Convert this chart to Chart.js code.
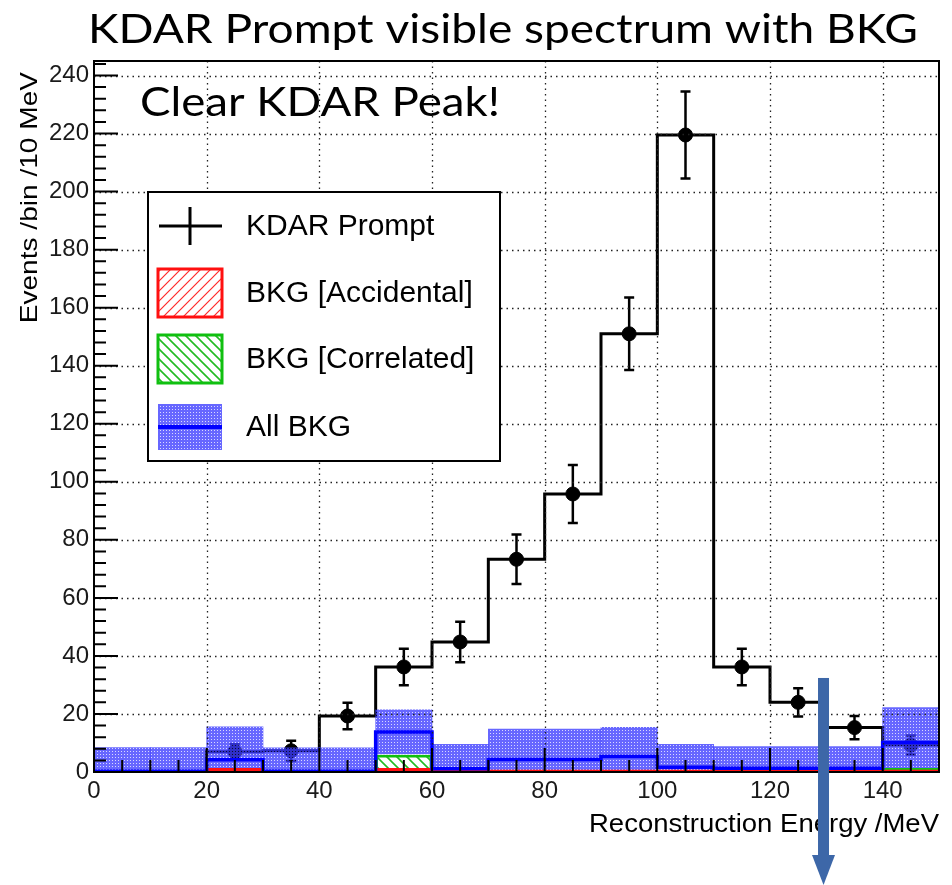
<!DOCTYPE html>
<html lang="en">
<head>
    <meta charset="UTF-8">
    <title>KDAR Prompt visible spectrum with BKG</title>
    <style>
        body { margin: 0; padding: 0; background: #fff; }
        canvas { display: block; }
    </style>
</head>
<body>
    <canvas id="spectrum" width="952" height="885"></canvas>

    <script src="https://cdn.jsdelivr.net/npm/chart.js"></script>
    <script>
        // 10 MeV bins, lower edges
        const binLow = [0, 10, 20, 30, 40, 50, 60, 70, 80, 90, 100, 110, 120, 130, 140];
        const binWidth = 10;

        // KDAR prompt events per bin and their errors
        const kdarCounts = [0, 0, 7.0, 7.3, 19.3, 36.2, 44.8, 73.3, 95.8, 151, 219.5, 36.2, 24.0, 15.3, 9.3];
        const kdarErr    = [0, 0, 2.6, 3.5, 4.6, 6.3, 7.0, 8.5, 10.0, 12.5, 15.0, 6.3, 4.9, 4.0, 3.3];

        // backgrounds
        const bkgAccidental = [0, 0, 1.3, 0, 0, 1.3, 0.8, 0.7, 0.7, 0.7, 0.7, 0.7, 0.7, 0.7, 0.7];
        const bkgCorrelated = [0, 0, 0, 0, 0, 5.8, 0, 0, 0, 0, 0, 0, 0, 0, 1.3];
        const bkgTotal      = [0.3, 0.3, 4.2, 0.3, 0.3, 13.8, 1.1, 4.3, 4.3, 5.3, 1.6, 1.3, 1.3, 1.3, 10.2];
        const bkgTotalErr   = [8.1, 8.1, 11.4, 8.0, 8.0, 7.6, 8.4, 10.5, 10.5, 10.1, 7.9, 7.5, 7.5, 7.5, 12.0];

        // axis ticks
        const xTicks = [0, 20, 40, 60, 80, 100, 120, 140];
        const yTicks = [0, 20, 40, 60, 80, 100, 120, 140, 160, 180, 200, 220, 240];

        // where the arrow marker sits (MeV, events)
        const arrowEnergy = 129.5;
        const arrowTop = 32.4;

        const canvas = document.getElementById('spectrum');
        const ctx = canvas.getContext('2d');

        // ---- fill patterns (ROOT style hatches / dots) ----
        function makePattern(size, draw) {
            const c = document.createElement('canvas');
            c.width = c.height = size;
            draw(c.getContext('2d'), size);
            return ctx.createPattern(c, 'repeat');
        }
        const dotBlue = makePattern(3, g => {
            g.fillStyle = 'rgba(60, 60, 255, 0.78)';
            g.fillRect(0, 0, 3, 3);
            g.clearRect(1, 1, 1, 1);
            g.fillStyle = 'rgba(60, 60, 255, 0.2)';
            g.fillRect(1, 1, 1, 1);
        });
        function hatch(color, forward, width) {
            return makePattern(10, (g, s) => {
                g.strokeStyle = color;
                g.lineWidth = width;
                g.beginPath();
                if (forward) {
                    g.moveTo(0, s); g.lineTo(s, 0);
                    g.moveTo(-2, 2); g.lineTo(2, -2);
                    g.moveTo(s - 2, s + 2); g.lineTo(s + 2, s - 2);
                } else {
                    g.moveTo(0, 0); g.lineTo(s, s);
                    g.moveTo(-2, s - 2); g.lineTo(2, s + 2);
                    g.moveTo(s - 2, -2); g.lineTo(s + 2, 2);
                }
                g.stroke();
            });
        }
        const hatchRed = hatch('#ff2a2a', true, 1.2);
        const hatchGreen = hatch('#22bb22', false, 1.6);

        // ---- data helpers ----
        const centers = binLow.map(lo => lo + binWidth / 2);
        function stepPoints(values) {
            const pts = values.map((v, i) => ({ x: binLow[i], y: v }));
            pts.push({ x: binLow[binLow.length - 1] + binWidth, y: values[values.length - 1] });
            return pts;
        }
        function barPoints(values) {
            return values.map((v, i) => ({ x: centers[i], y: [0, v] })).filter(p => p.y[1] > 0);
        }
        const bandPoints = bkgTotal.map((v, i) => ({
            x: centers[i],
            y: [Math.max(0, v - bkgTotalErr[i]), v + bkgTotalErr[i]]
        }));
        const markerPoints = kdarCounts
            .map((v, i) => ({ x: centers[i], y: v, err: kdarErr[i] }))
            .filter(p => p.y > 0);

        const barCommon = {
            type: 'bar',
            grouped: false,
            barPercentage: 1,
            categoryPercentage: 1
        };

        // ---- drawing helpers ----
        function text(c, str, x, y, font, align, baseline, color) {
            c.font = font;
            c.textAlign = align;
            c.textBaseline = baseline;
            c.fillStyle = color || '#000';
            c.fillText(str, x, y);
        }
        // text widened along its own direction (ROOT's Helvetica runs wider)
        function wideText(c, str, x, y, font, align, stretch, angle) {
            c.save();
            c.translate(x, y);
            if (angle) c.rotate(angle);
            c.scale(stretch, 1);
            text(c, str, 0, 0, font, align, 'alphabetic');
            c.restore();
        }
        // stretch a text horizontally so it spans a given width
        function textToWidth(c, str, x, y, font, width) {
            c.font = font;
            const w = c.measureText(str).width;
            wideText(c, str, x, y, font, 'left', width / w);
        }

        const AXIS_FONT = "24px 'Liberation Sans', Arial, sans-serif";

        // error bars for the KDAR points
        const errorBars = {
            id: 'errorBars',
            afterDatasetDraw(chart, args) {
                if (args.meta.index !== 1) return;
                const c = chart.ctx, xs = chart.scales.x, ys = chart.scales.y;
                c.save();
                c.strokeStyle = '#000';
                c.lineWidth = 2.5;
                markerPoints.forEach(p => {
                    const px = xs.getPixelForValue(p.x);
                    const top = ys.getPixelForValue(p.y + p.err);
                    const bot = ys.getPixelForValue(Math.max(0, p.y - p.err));
                    c.beginPath();
                    c.moveTo(px, top); c.lineTo(px, bot);
                    c.moveTo(px - 5, top); c.lineTo(px + 5, top);
                    c.moveTo(px - 5, bot); c.lineTo(px + 5, bot);
                    c.stroke();
                });
                c.restore();
            }
        };

        // grid, frame and inward ticks like a ROOT pad
        const rootFrame = {
            id: 'rootFrame',
            afterDatasetsDraw(chart) {
                const c = chart.ctx, a = chart.chartArea, xs = chart.scales.x, ys = chart.scales.y;
                c.save();
                c.strokeStyle = '#222';
                c.lineWidth = 1.3;
                c.setLineDash([1.5, 4]);
                c.beginPath();
                xTicks.slice(1).forEach(t => {
                    const px = Math.round(xs.getPixelForValue(t)) + 0.5;
                    c.moveTo(px, a.top); c.lineTo(px, a.bottom);
                });
                yTicks.slice(1).forEach(t => {
                    const py = Math.round(ys.getPixelForValue(t)) + 0.5;
                    c.moveTo(a.left, py); c.lineTo(a.right, py);
                });
                c.stroke();
                c.setLineDash([]);

                c.strokeStyle = '#000';
                c.lineWidth = 2;
                c.strokeRect(a.left, a.top, a.right - a.left, a.bottom - a.top);

                c.beginPath();
                for (let v = 0; v <= ys.max; v += 4) {
                    const py = ys.getPixelForValue(v);
                    const len = v % 20 === 0 ? 24 : 12;
                    c.moveTo(a.left, py); c.lineTo(a.left + len, py);
                }
                for (let v = 0; v <= xs.max; v += 5) {
                    const px = xs.getPixelForValue(v);
                    const len = v % 20 === 0 ? 24 : 12;
                    c.moveTo(px, a.bottom); c.lineTo(px, a.bottom - len);
                }
                c.stroke();
                c.restore();
            },
            afterDraw(chart) {
                const c = chart.ctx, a = chart.chartArea, xs = chart.scales.x, ys = chart.scales.y;
                c.save();
                yTicks.forEach(t => text(c, String(t), a.left - 5, ys.getPixelForValue(t), AXIS_FONT, 'right', 'middle', '#1a1a1a'));
                xTicks.forEach(t => text(c, String(t), xs.getPixelForValue(t), a.bottom + 19, AXIS_FONT, 'center', 'middle', '#1a1a1a'));

                wideText(c, 'Reconstruction Energy /MeV', a.right, a.bottom + 60,
                    "25px 'Liberation Sans', Arial, sans-serif", 'right', 1.1);
                wideText(c, 'Events /bin /10 MeV', 37, a.top + 11,
                    "24px 'Liberation Sans', Arial, sans-serif", 'right', 1.17, -Math.PI / 2);
                c.restore();
            }
        };

        // legend box drawn in the pad
        const padLegend = {
            id: 'padLegend',
            afterDraw(chart) {
                const c = chart.ctx;
                const box = { x: 148, y: 192, w: 352, h: 269 };
                c.save();
                c.fillStyle = '#fff';
                c.fillRect(box.x, box.y, box.w, box.h);
                c.strokeStyle = '#000';
                c.lineWidth = 2;
                c.strokeRect(box.x, box.y, box.w, box.h);

                const sx = 158, sw = 64, tx = 246;
                const rows = [226, 293, 359, 427];
                const font = "30px 'Liberation Sans', Arial, sans-serif";

                // KDAR Prompt: marker cross
                c.lineWidth = 3;
                c.beginPath();
                c.moveTo(sx + 1, rows[0]); c.lineTo(sx + sw, rows[0]);
                c.moveTo(sx + sw / 2, rows[0] - 19); c.lineTo(sx + sw / 2, rows[0] + 19);
                c.stroke();
                text(c, 'KDAR Prompt', tx, rows[0] + 1, font, 'left', 'middle');

                // accidental
                c.fillStyle = hatchRed;
                c.fillRect(sx, rows[1] - 24, sw, 48);
                c.strokeStyle = '#ff1010';
                c.lineWidth = 3;
                c.strokeRect(sx, rows[1] - 24, sw, 48);
                text(c, 'BKG [Accidental]', tx, rows[1] + 1, font, 'left', 'middle');

                // correlated
                c.fillStyle = hatchGreen;
                c.fillRect(sx, rows[2] - 24, sw, 48);
                c.strokeStyle = '#10c010';
                c.strokeRect(sx, rows[2] - 24, sw, 48);
                text(c, 'BKG [Correlated]', tx, rows[2] + 1, font, 'left', 'middle');

                // all background
                c.fillStyle = dotBlue;
                c.fillRect(sx, rows[3] - 23, sw, 46);
                c.strokeStyle = '#0000ff';
                c.lineWidth = 4;
                c.beginPath();
                c.moveTo(sx, rows[3]); c.lineTo(sx + sw, rows[3]);
                c.stroke();
                text(c, 'All BKG', tx, rows[3] + 1, font, 'left', 'middle');
                c.restore();
            }
        };

        // slide title, comment and arrow on top of the plot
        const slideOverlay = {
            id: 'slideOverlay',
            afterDraw(chart) {
                const c = chart.ctx, xs = chart.scales.x, ys = chart.scales.y;
                c.save();
                textToWidth(c, 'KDAR Prompt visible spectrum with BKG', 88, 43, "41px Lato, 'Open Sans', sans-serif", 830);
                textToWidth(c, 'Clear KDAR Peak!', 140, 116, "41px Lato, 'Open Sans', sans-serif", 360);

                const ax = xs.getPixelForValue(arrowEnergy);
                const ay = ys.getPixelForValue(arrowTop);
                const tip = chart.height;
                c.fillStyle = '#3d67a8';
                c.fillRect(ax - 5.5, ay, 11, tip - 30 - ay);
                c.beginPath();
                c.moveTo(ax - 11.5, tip - 30);
                c.lineTo(ax + 11.5, tip - 30);
                c.lineTo(ax, tip);
                c.closePath();
                c.fill();
                c.restore();
            }
        };

        new Chart(ctx, {
            type: 'bar',
            data: {
                datasets: [
                    {
                        type: 'line',
                        label: 'KDAR Prompt',
                        data: stepPoints(kdarCounts),
                        stepped: 'before',
                        borderColor: '#000',
                        borderWidth: 3,
                        pointRadius: 0,
                        fill: false,
                        order: 6
                    },
                    {
                        type: 'scatter',
                        label: 'KDAR Prompt points',
                        data: markerPoints,
                        pointRadius: 7,
                        pointBackgroundColor: '#000',
                        pointBorderColor: '#000',
                        order: 5
                    },
                    {
                        ...barCommon,
                        label: 'All BKG error',
                        data: bandPoints,
                        backgroundColor: dotBlue,
                        borderWidth: 0,
                        order: 4
                    },
                    {
                        ...barCommon,
                        label: 'BKG [Correlated]',
                        data: barPoints(bkgCorrelated),
                        backgroundColor: hatchGreen,
                        borderColor: '#10c010',
                        borderWidth: 2,
                        order: 3
                    },
                    {
                        ...barCommon,
                        label: 'BKG [Accidental]',
                        data: barPoints(bkgAccidental),
                        backgroundColor: '#ff1010',
                        borderColor: '#ff1010',
                        borderWidth: 0,
                        order: 2
                    },
                    {
                        type: 'line',
                        label: 'All BKG',
                        data: stepPoints(bkgTotal),
                        stepped: 'before',
                        borderColor: '#0000ff',
                        borderWidth: 3.5,
                        pointRadius: 0,
                        fill: false,
                        order: 1
                    }
                ]
            },
            options: {
                responsive: false,
                animation: false,
                devicePixelRatio: 1,
                layout: { padding: { left: 94, right: 13, top: 61, bottom: 113 } },
                plugins: {
                    legend: { display: false },
                    tooltip: { enabled: false }
                },
                scales: {
                    x: { type: 'linear', min: 0, max: 150, offset: false, display: false, ticks: { stepSize: 10 } },
                    y: { type: 'linear', min: 0, max: 245, display: false }
                }
            },
            plugins: [errorBars, rootFrame, padLegend, slideOverlay]
        });
    </script>
</body>
</html>
